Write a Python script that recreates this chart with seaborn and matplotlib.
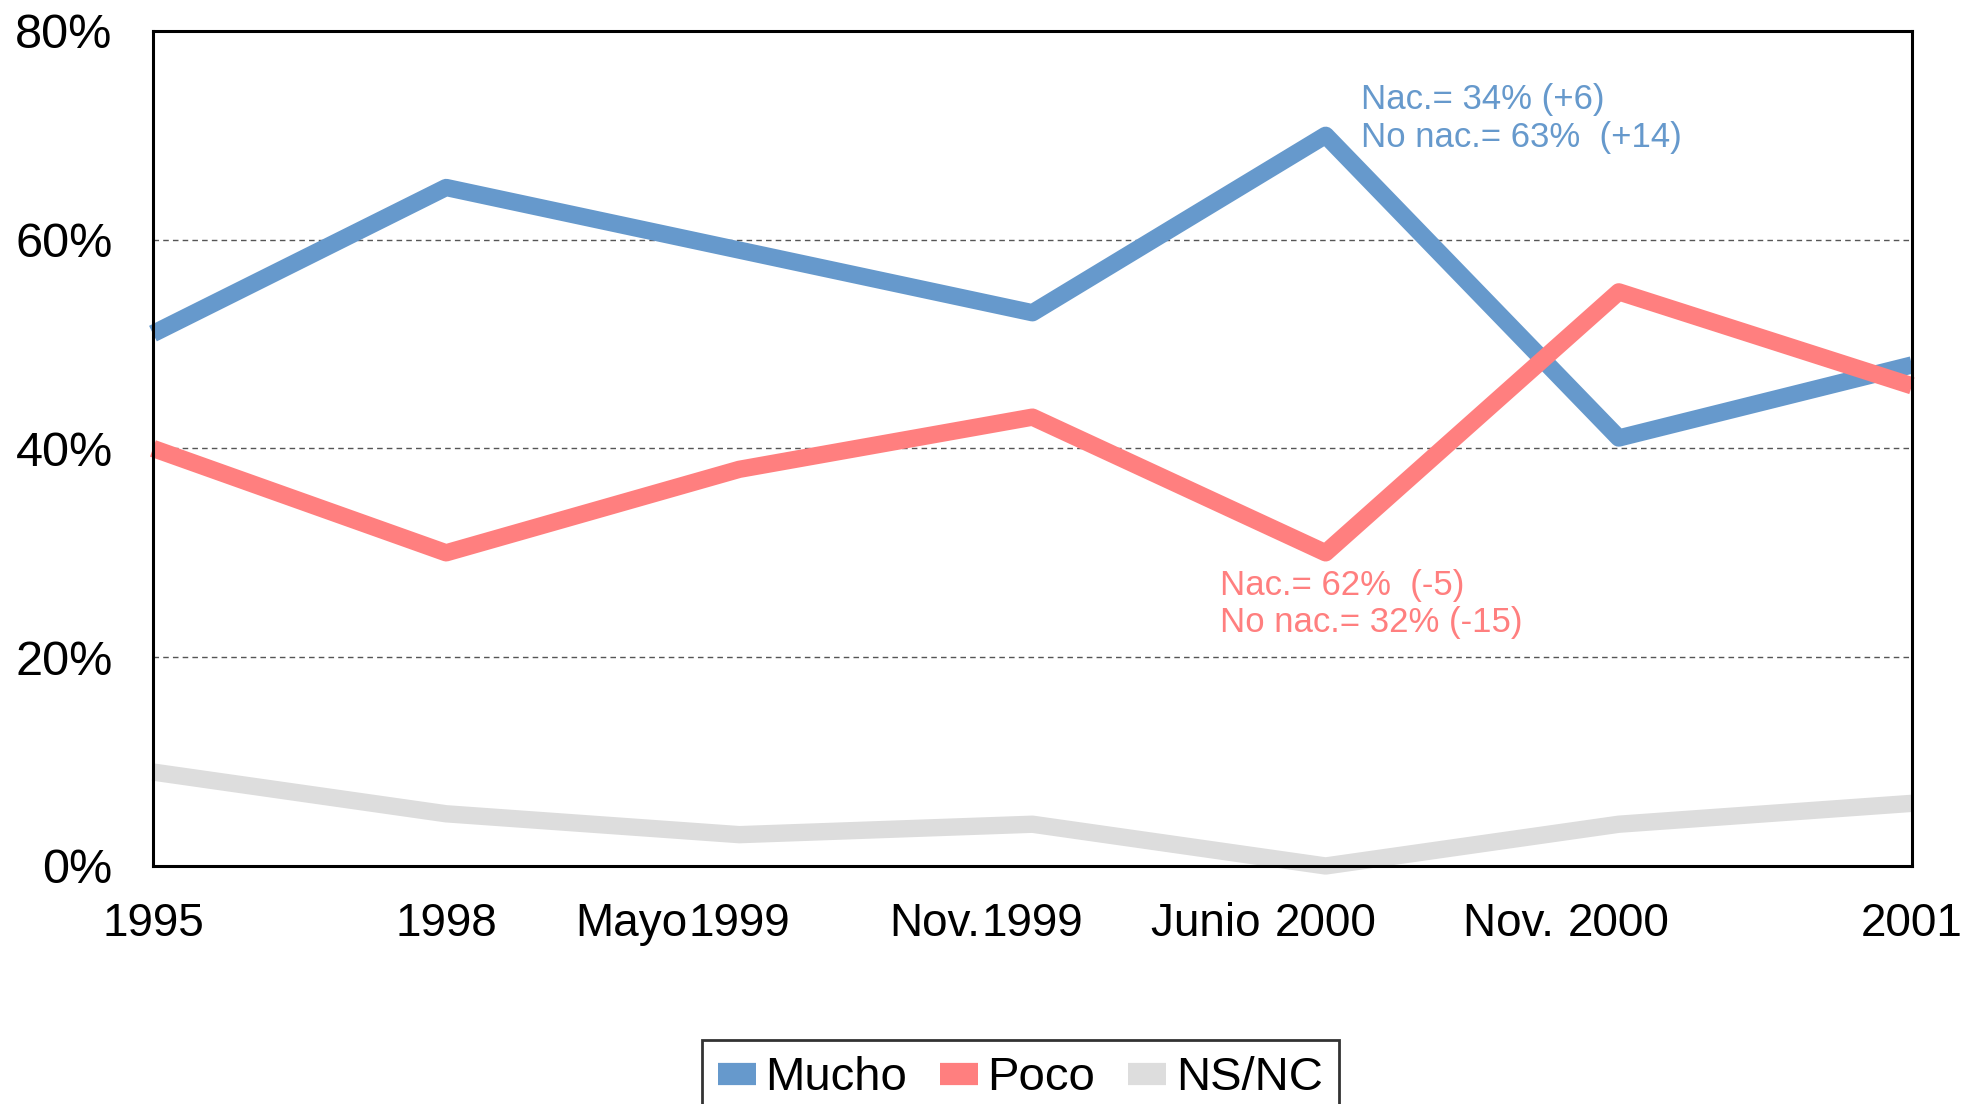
import matplotlib
matplotlib.use("Agg")
import matplotlib.pyplot as plt
import seaborn as sns
import pandas as pd

label_prefix = ["", "", "Mayo", "Nov.", "Junio ", "Nov. ", ""]
label_year = ["1995", "1998", "1999", "1999", "2000", "2000", "2001"]
mucho = [51, 65, 59, 53, 70, 41, 48]
poco = [40, 30, 38, 43, 30, 55, 46]
nsnc = [9, 5, 3, 4, 0, 4, 6]
series_names = ["Mucho", "Poco", "NS/NC"]
colors = ["#6699CC", "#FF7F7F", "#DDDDDD"]
y_ticks = [0, 20, 40, 60, 80]
note_mucho = "Nac.= 34% (+6)\nNo nac.= 63%  (+14)"
note_poco = "Nac.= 62%  (-5)\nNo nac.= 32% (-15)"

sns.set_theme(style="white")
plt.rcParams["font.family"] = ["Liberation Sans", "DejaVu Sans"]
plt.rcParams["text.color"] = "black"

rows = []
for name, vals in zip(series_names, [mucho, poco, nsnc]):
    for i, v in enumerate(vals):
        rows.append({"pos": i, "value": v, "serie": name})
df = pd.DataFrame(rows)

fig = plt.figure(figsize=(19.66, 11.04), dpi=100)
ax = fig.add_axes([0.0778, 0.2156, 0.8947, 0.7564])

sns.lineplot(data=df, x="pos", y="value", hue="serie", hue_order=series_names,
             palette=colors, linewidth=12.5, ax=ax, legend=False)
for ln in ax.get_lines():
    ln.set_clip_on(False)
    ln.set_solid_capstyle("butt")
    ln.set_solid_joinstyle("round")

ax.set_xlim(0, len(label_year) - 1)
ax.set_ylim(0, 80)
ax.set_yticks(y_ticks)
ax.set_yticklabels([f"{t}%" for t in y_ticks], fontsize=35, color="black")
ax.set_xticks(range(len(label_year)))
ax.set_xticklabels(label_year, fontsize=33, color="black")
ax.tick_params(axis="y", length=0, pad=29)
ax.tick_params(axis="x", length=0, pad=26)
ax.set_xlabel("")
ax.set_ylabel("")

# prefixes placed immediately left of the year, which is centred on its tick
year_half = 4 * 0.556 * 33 / 2
for i, pre in enumerate(label_prefix):
    if pre:
        ax.annotate(pre, xy=(i, 0), xycoords=ax.get_xaxis_transform(),
                    xytext=(-year_half - 1, -26), textcoords="offset points",
                    ha="right", va="top", fontsize=33, color="black",
                    annotation_clip=False)

for t in [20, 40, 60]:
    ax.axhline(t, color="#555555", linestyle=(0, (4, 3)), linewidth=1.0, zorder=1)

for s in ax.spines.values():
    s.set_color("black")
    s.set_linewidth(2.2)
    s.set_visible(True)

ax.text(4.12, 71.6, note_mucho, color=colors[0], fontsize=25, ha="left", va="center",
        linespacing=1.18)
ax.text(3.64, 25.1, note_poco, color=colors[1], fontsize=25, ha="left", va="center",
        linespacing=1.18)

handles = [plt.Line2D([0], [0], color=c, linewidth=16, solid_capstyle="butt") for c in colors]
leg = fig.legend(handles, series_names, loc="upper center", bbox_to_anchor=(0.519, 0.058),
                 ncol=3, frameon=True, fancybox=False,
                 prop={"size": 34}, labelcolor="black",
                 handlelength=0.8, handletextpad=0.2, columnspacing=0.7,
                 borderpad=0.35, borderaxespad=0)
leg.get_frame().set_edgecolor("black")
leg.get_frame().set_linewidth(2)

fig.savefig("out.png", dpi=100)
